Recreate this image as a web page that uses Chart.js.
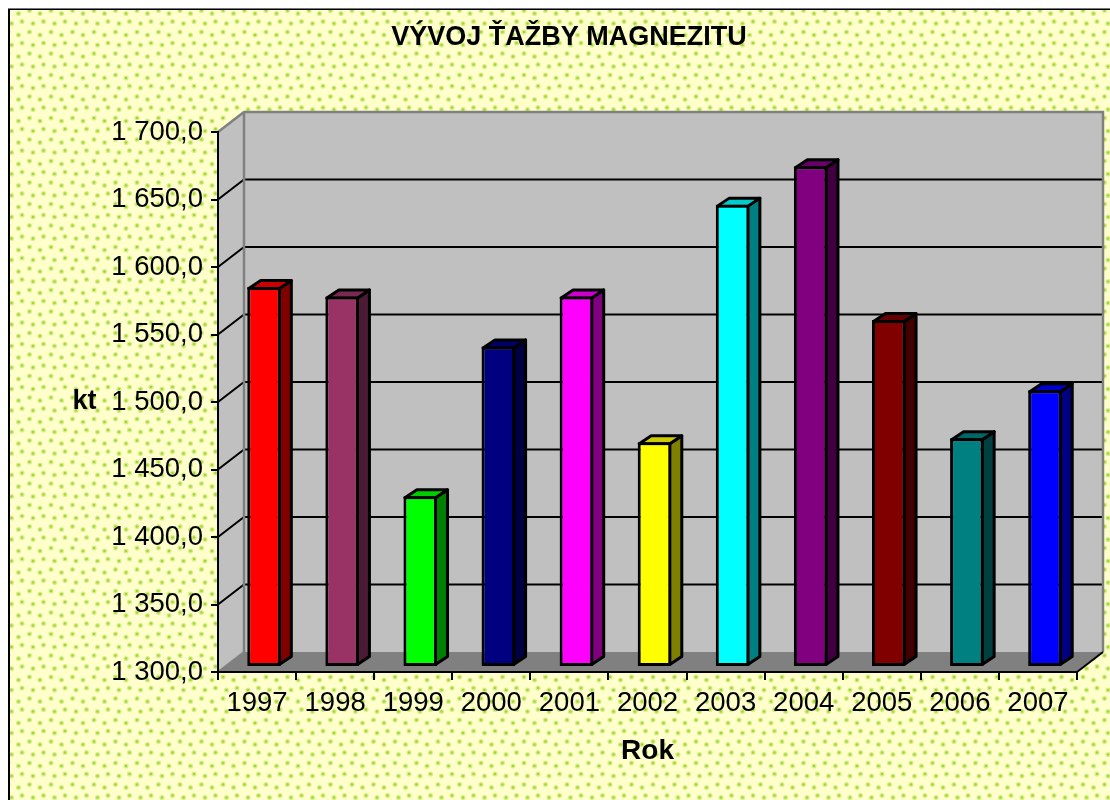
<!DOCTYPE html>
<html>
<head>
<meta charset="utf-8">
<style>
html,body{margin:0;padding:0;background:#fff;}
#wrap{width:1110px;height:800px;position:relative;overflow:hidden;}
canvas{display:block;}
</style>
<script src="https://cdn.jsdelivr.net/npm/chart.js@4"></script>
</head>
<body>
<div id="wrap"><canvas id="c" width="1110" height="800"></canvas></div>
<script>
const titleText = "VÝVOJ ŤAŽBY MAGNEZITU";
const xTitle = "Rok";
const yTitle = "kt";
const categories = ["1997","1998","1999","2000","2001","2002","2003","2004","2005","2006","2007"];
const values = [1581.5,1574.5,1426.5,1537.5,1574.5,1466.5,1642.5,1671,1557,1469.5,1505];
const barColors = ["#FF0000","#993366","#00FF00","#000080","#FF00FF","#FFFF00","#00FFFF","#800080","#800000","#008080","#0000FF"];
const yMin = 1300, yMax = 1700, yStep = 50;

const FONT = '"Liberation Sans", Arial, sans-serif';
const WALL = {dx:26, dy:-20};      // depth of the 3D box
const BAR_SHIFT = {dx:7, dy:-5};   // bars stand in the middle of the floor
const BAR_DEPTH = {dx:12, dy:-8};
const BAR_LINE = 3;

function shade(hex, f){
  const n = parseInt(hex.slice(1),16);
  const c = [n>>16&255, n>>8&255, n&255].map(v=>Math.round(v*f));
  return `rgb(${c[0]},${c[1]},${c[2]})`;
}
function poly(ctx, pts, fill, stroke, lw){
  ctx.beginPath();
  pts.forEach((p,i)=> i?ctx.lineTo(p[0],p[1]):ctx.moveTo(p[0],p[1]));
  ctx.closePath();
  if(fill){ctx.fillStyle=fill;ctx.fill();}
  if(stroke){ctx.strokeStyle=stroke;ctx.lineWidth=lw;ctx.lineJoin='round';ctx.stroke();}
}
function makePattern(ctx){
  const S=43, half=21.5;
  const t=document.createElement('canvas');
  t.width=S;t.height=S;
  const g=t.getContext('2d');
  g.fillStyle='#FFFFCC';g.fillRect(0,0,S,S);
  const motif=[[10,5],[21,2],[3,15],[13.5,13]];
  for(let i=-1;i<=2;i++){
    for(let j=-1;j<=2;j++){
      motif.forEach(([mx,my])=>{
        const x=mx+i*half, y=my+j*half;
        g.fillStyle='rgba(200,232,120,0.7)';
        g.beginPath();g.arc(x,y,2.6,0,Math.PI*2);g.fill();
        g.fillStyle='#A6D62E';
        g.beginPath();g.arc(x,y,1.3,0,Math.PI*2);g.fill();
      });
    }
  }
  return ctx.createPattern(t,'repeat');
}

const scene3d = {
  id:'scene3d',
  beforeDraw(chart){
    const ctx=chart.ctx, a=chart.chartArea, y=chart.scales.y;
    ctx.save();
    // chart-area background and frame
    ctx.fillStyle='#fff';ctx.fillRect(0,0,chart.width,chart.height);
    ctx.fillStyle='#000';ctx.fillRect(8,8,chart.width-8,chart.height-8);
    ctx.fillStyle='#777';ctx.fillRect(8,8,chart.width-8,1);
    ctx.save();
    ctx.beginPath();ctx.rect(10,10,chart.width-10,chart.height-10);ctx.clip();
    ctx.translate(30-43,30-43);
    ctx.fillStyle=makePattern(ctx);
    ctx.fillRect(0,0,chart.width+43,chart.height+43);
    ctx.restore();
    // walls
    const d=WALL, L=a.left,R=a.right,T=a.top,B=a.bottom;
    poly(ctx,[[L,T],[L+d.dx,T+d.dy],[L+d.dx,B+d.dy],[L,B]],'#C0C0C0');
    poly(ctx,[[L+d.dx,T+d.dy],[R+d.dx,T+d.dy],[R+d.dx,B+d.dy],[L+d.dx,B+d.dy]],'#C0C0C0');
    poly(ctx,[[L,B],[L+d.dx,B+d.dy],[R+d.dx,B+d.dy],[R,B]],'#808080');
    // grid
    ctx.strokeStyle='#000';ctx.lineWidth=2;ctx.lineCap='butt';
    y.ticks.forEach(t=>{
      if(t.value===yMin||t.value===yMax) return;
      const py=y.getPixelForValue(t.value);
      ctx.beginPath();
      ctx.moveTo(L,py);ctx.lineTo(L+d.dx,py+d.dy);ctx.lineTo(R+d.dx,py+d.dy);
      ctx.stroke();
    });
    // grey wall outlines
    ctx.strokeStyle='#808080';ctx.lineWidth=2.5;
    ctx.beginPath();
    ctx.moveTo(L,T);ctx.lineTo(L+d.dx,T+d.dy);ctx.lineTo(R+d.dx,T+d.dy);ctx.lineTo(R+d.dx,B+d.dy);
    ctx.moveTo(L+d.dx,T+d.dy);ctx.lineTo(L+d.dx,B+d.dy);
    ctx.stroke();
    // front floor edges
    ctx.strokeStyle='#000';ctx.lineWidth=2;
    ctx.beginPath();ctx.moveTo(R,B);ctx.lineTo(R+d.dx,B+d.dy);ctx.stroke();
    ctx.strokeStyle='#808080';
    ctx.beginPath();ctx.moveTo(L,B);ctx.lineTo(L+d.dx,B+d.dy);ctx.stroke();
    ctx.restore();
  },
  beforeDatasetsDraw(chart){
    const ctx=chart.ctx;
    ctx.save();
    ctx.translate(BAR_SHIFT.dx,BAR_SHIFT.dy);
    const d=BAR_DEPTH, h=BAR_LINE/2;
    chart.getDatasetMeta(0).data.forEach((el,i)=>{
      const hw=el.width/2, l=el.x-hw+h, r=el.x+hw-h, t=el.y+h, b=el.base-h;
      poly(ctx,[[r,t],[r+d.dx,t+d.dy],[r+d.dx,b+d.dy],[r,b]],shade(barColors[i],0.5),'#000',BAR_LINE);
      poly(ctx,[[l,t],[l+d.dx,t+d.dy],[r+d.dx,t+d.dy],[r,t]],shade(barColors[i],0.8),'#000',BAR_LINE);
    });
  },
  afterDatasetsDraw(chart){
    chart.ctx.restore();
  },
  afterDraw(chart){
    const ctx=chart.ctx;
    ctx.save();
    ctx.fillStyle='#000';
    ctx.font='bold 27px '+FONT;
    ctx.textAlign='center';ctx.textBaseline='middle';
    ctx.fillText(yTitle,84.5,402);
    ctx.restore();
  }
};

new Chart(document.getElementById('c'),{
  type:'bar',
  plugins:[scene3d],
  data:{
    labels:categories,
    datasets:[{
      label:"Ťažba magnezitu (kt)",
      data:values,
      base:yMin,
      backgroundColor:barColors,
      borderColor:'#000',
      borderWidth:BAR_LINE,
      borderSkipped:false,
      barPercentage:0.43,
      categoryPercentage:1,
      clip:false
    }]
  },
  options:{
    responsive:false,
    animation:false,
    devicePixelRatio:1,
    layout:{padding:{left:61,right:33,top:0,bottom:0}},
    plugins:{
      legend:{display:false},
      tooltip:{enabled:false},
      title:{
        display:true,text:titleText,color:'#000',
        font:{family:FONT,size:27,weight:'bold',lineHeight:1.2},
        padding:{top:21,bottom:78.6}
      }
    },
    scales:{
      x:{
        afterFit(s){s.height=128;},
        grid:{display:true,drawOnChartArea:false,drawTicks:true,tickLength:8,color:'#000',lineWidth:2,offset:true},
        border:{display:true,color:'#000',width:2},
        ticks:{color:'#000',font:{family:FONT,size:27.5},padding:7,maxRotation:0,autoSkip:false},
        title:{display:true,text:xTitle,color:'#000',font:{family:FONT,size:28,weight:'bold',lineHeight:1.2},padding:{top:0,bottom:32}}
      },
      y:{
        min:yMin,max:yMax,
        afterFit(s){s.width=157;},
        grid:{display:true,drawOnChartArea:false,drawTicks:true,tickLength:7,color:'#000',lineWidth:2},
        border:{display:true,color:'#000',width:2},
        ticks:{
          stepSize:yStep,color:'#000',font:{family:FONT,size:27.5},padding:8,
          callback(v){
            const s=v.toFixed(1).replace('.',',');
            return s.slice(0,1)+' '+s.slice(1);
          }
        }
      }
    }
  }
});
</script>
</body>
</html>
